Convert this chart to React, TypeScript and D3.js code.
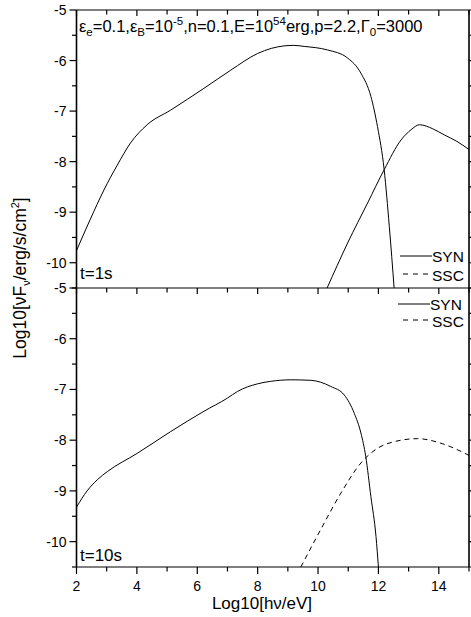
import React from "react";
import * as d3 from "d3";

// Canvas and plotting frame
const W = 471;
const H = 617;
const LEFT = 76.5;
const RIGHT = 469;
const PANELS = [
  { top: 10, bottom: 288, label: "t=1s", labelY: 279 },
  { top: 288, bottom: 567, label: "t=10s", labelY: 561 },
];

const X_DOMAIN: [number, number] = [2, 15];
const Y_DOMAIN: [number, number] = [-10.5, -5];
const X_TICK_LABELS = [2, 4, 6, 8, 10, 12, 14];
const Y_TICK_LABELS = [-10, -9, -8, -7, -6, -5];

// t = 1 s : synchrotron
const syn1X = [2.0, 2.45, 2.91, 3.35, 3.79, 4.34, 5.12, 6.22, 7.11, 8.0, 8.45, 8.88, 9.2, 9.54, 10.31, 10.98, 11.42, 11.75, 11.97, 12.19, 12.36, 12.52];
const syn1Y = [-9.76, -9.15, -8.56, -8.07, -7.63, -7.27, -6.98, -6.55, -6.19, -5.86, -5.76, -5.71, -5.7, -5.72, -5.79, -5.95, -6.25, -6.71, -7.31, -8.16, -9.28, -10.5];
// t = 1 s : synchrotron self-Compton
const ssc1X = [10.3, 10.98, 11.64, 12.19, 12.75, 13.08, 13.36, 13.8, 14.18, 14.6, 15.0];
const ssc1Y = [-10.5, -9.61, -8.82, -8.16, -7.57, -7.37, -7.27, -7.35, -7.47, -7.6, -7.76];

// t = 10 s : synchrotron
const syn2X = [2.0, 2.35, 2.69, 3.02, 4.01, 5.12, 6.22, 7.0, 7.33, 7.99, 8.43, 9.1, 9.76, 10.42, 10.87, 11.2, 11.42, 11.58, 11.75, 11.92, 12.0];
const syn2Y = [-9.32, -9.0, -8.78, -8.62, -8.26, -7.83, -7.43, -7.17, -7.04, -6.89, -6.84, -6.81, -6.82, -6.94, -7.11, -7.47, -7.86, -8.32, -9.11, -9.9, -10.5];
// t = 10 s : synchrotron self-Compton
const ssc2X = [9.43, 10.09, 10.76, 11.42, 11.97, 12.52, 13.3, 14.07, 14.9, 15.0];
const ssc2Y = [-10.5, -9.76, -9.04, -8.45, -8.16, -8.03, -7.97, -8.06, -8.27, -8.3];

const SERIES = [
  [
    { xs: syn1X, ys: syn1Y, dash: undefined as string | undefined },
    { xs: ssc1X, ys: ssc1Y, dash: undefined as string | undefined },
  ],
  [
    { xs: syn2X, ys: syn2Y, dash: undefined as string | undefined },
    { xs: ssc2X, ys: ssc2Y, dash: "5,4" },
  ],
];

const LEGEND = [
  { top: { y: 256, x1: 400, x2: 432 }, bottom: { y: 274, x1: 403, x2: 429 } },
  { top: { y: 304, x1: 398, x2: 430 }, bottom: { y: 320, x1: 403, x2: 429 } },
];

const FONT = "'Liberation Sans', Arial, Helvetica, sans-serif";

export default function App() {
  const x = d3.scaleLinear().domain(X_DOMAIN).range([LEFT, RIGHT]);
  const xMinor = d3.range(2, 16, 1);

  return (
    <svg
      width={W}
      height={H}
      viewBox={`0 0 ${W} ${H}`}
      style={{ position: "absolute", left: 0, top: 0, background: "#fff" }}
      fontFamily={FONT}
    >
      <defs>
        {PANELS.map((p, i) => (
          <clipPath id={`clip${i}`} key={i}>
            <rect x={LEFT} y={p.top} width={RIGHT - LEFT} height={p.bottom - p.top} />
          </clipPath>
        ))}
      </defs>

      {PANELS.map((p, i) => {
        const y = d3.scaleLinear().domain(Y_DOMAIN).range([p.bottom, p.top]);
        const line = d3
          .line<[number, number]>()
          .x((d) => x(d[0]))
          .y((d) => y(d[1]))
          .curve(d3.curveMonotoneX);
        const yMinor = d3.range(-10.5, -4.99, 0.5);
        const lg = LEGEND[i];
        return (
          <g key={i}>
            {/* curves */}
            <g clipPath={`url(#clip${i})`}>
              {SERIES[i].map((s, k) => (
                <path
                  key={k}
                  d={line(s.xs.map((v, j) => [v, s.ys[j]] as [number, number])) || ""}
                  fill="none"
                  stroke="#000"
                  strokeWidth={1}
                  strokeDasharray={s.dash}
                />
              ))}
            </g>

            {/* left axis */}
            <line x1={LEFT} x2={LEFT} y1={p.top} y2={p.bottom} stroke="#000" strokeWidth={1.6} />
            {yMinor.map((v) => {
              const major = Math.abs(v - Math.round(v)) < 1e-6;
              return (
                <line key={`l${v}`} x1={LEFT - (major ? 7 : 4.5)} x2={LEFT} y1={y(v)} y2={y(v)} stroke="#000" strokeWidth={1.2} />
              );
            })}
            {Y_TICK_LABELS.map((v) => (
              <text key={`yl${v}`} x={LEFT - 10} y={y(v) + 5} fontSize={14} textAnchor="end" fill="#000">
                {v}
              </text>
            ))}

            {/* right axis */}
            <line x1={RIGHT} x2={RIGHT} y1={p.top} y2={p.bottom} stroke="#000" strokeWidth={1.6} />
            {yMinor.map((v) => {
              const major = Math.abs(v - Math.round(v)) < 1e-6;
              return (
                <line key={`r${v}`} x1={RIGHT} x2={RIGHT + (major ? 7 : 4.5)} y1={y(v)} y2={y(v)} stroke="#000" strokeWidth={1.2} />
              );
            })}

            {/* top axis, ticks inward */}
            <line x1={LEFT} x2={RIGHT} y1={p.top} y2={p.top} stroke="#000" strokeWidth={1.2} />
            {xMinor.map((v) => (
              <line key={`t${v}`} x1={x(v)} x2={x(v)} y1={p.top} y2={p.top + (v % 2 === 0 ? 6 : 4.5)} stroke="#000" strokeWidth={1.2} />
            ))}

            {/* time label */}
            <text x={80} y={p.labelY} fontSize={17} fill="#000">
              {p.label}
            </text>

            {/* legend */}
            <line x1={lg.top.x1} x2={lg.top.x2} y1={lg.top.y} y2={lg.top.y} stroke="#000" strokeWidth={1} />
            <text x={lg.top.x2} y={lg.top.y + 6} fontSize={15.5} fill="#000">SYN</text>
            <line x1={lg.bottom.x1} x2={lg.bottom.x2} y1={lg.bottom.y} y2={lg.bottom.y} stroke="#000" strokeWidth={1} strokeDasharray="5,5" />
            <text x={lg.bottom.x2 + 3} y={lg.bottom.y + 6.5} fontSize={15.5} fill="#000">SSC</text>
          </g>
        );
      })}

      {/* bottom axis */}
      <line x1={LEFT} x2={RIGHT} y1={567} y2={567} stroke="#000" strokeWidth={1.2} />
      {xMinor.map((v) => (
        <line key={`b${v}`} x1={x(v)} x2={x(v)} y1={567} y2={567 + (v % 2 === 0 ? 7 : 4.5)} stroke="#000" strokeWidth={1.2} />
      ))}
      {X_TICK_LABELS.map((v) => (
        <text key={`xl${v}`} x={x(v)} y={591} fontSize={14} textAnchor="middle" fill="#000">
          {v}
        </text>
      ))}

      {/* parameter header */}
      <text x={79} y={32} fontSize={16.5} fill="#000">
        <tspan>ε</tspan>
        <tspan dy={4} fontSize={11.5}>e</tspan>
        <tspan dy={-4}>=0.1,ε</tspan>
        <tspan dy={4} fontSize={11.5}>B</tspan>
        <tspan dy={-4}>=10</tspan>
        <tspan dy={-7} fontSize={11.5}>-5</tspan>
        <tspan dy={7}>,n=0.1,E=10</tspan>
        <tspan dy={-7} fontSize={11.5}>54</tspan>
        <tspan dy={7}>erg,p=2.2,Γ</tspan>
        <tspan dy={4} fontSize={11.5}>0</tspan>
        <tspan dy={-4}>=3000</tspan>
      </text>

      {/* axis titles */}
      <text x={262} y={609} fontSize={17} textAnchor="middle" fill="#000">
        Log10[hν/eV]
      </text>
      <text transform="translate(26,278) rotate(-90)" fontSize={17.5} textAnchor="middle" fill="#000">
        <tspan>Log10[νF</tspan>
        <tspan dy={4} fontSize={11}>ν</tspan>
        <tspan dy={-4}>/erg/s/cm</tspan>
        <tspan dy={-7} fontSize={11}>2</tspan>
        <tspan dy={7}>]</tspan>
      </text>
    </svg>
  );
}
